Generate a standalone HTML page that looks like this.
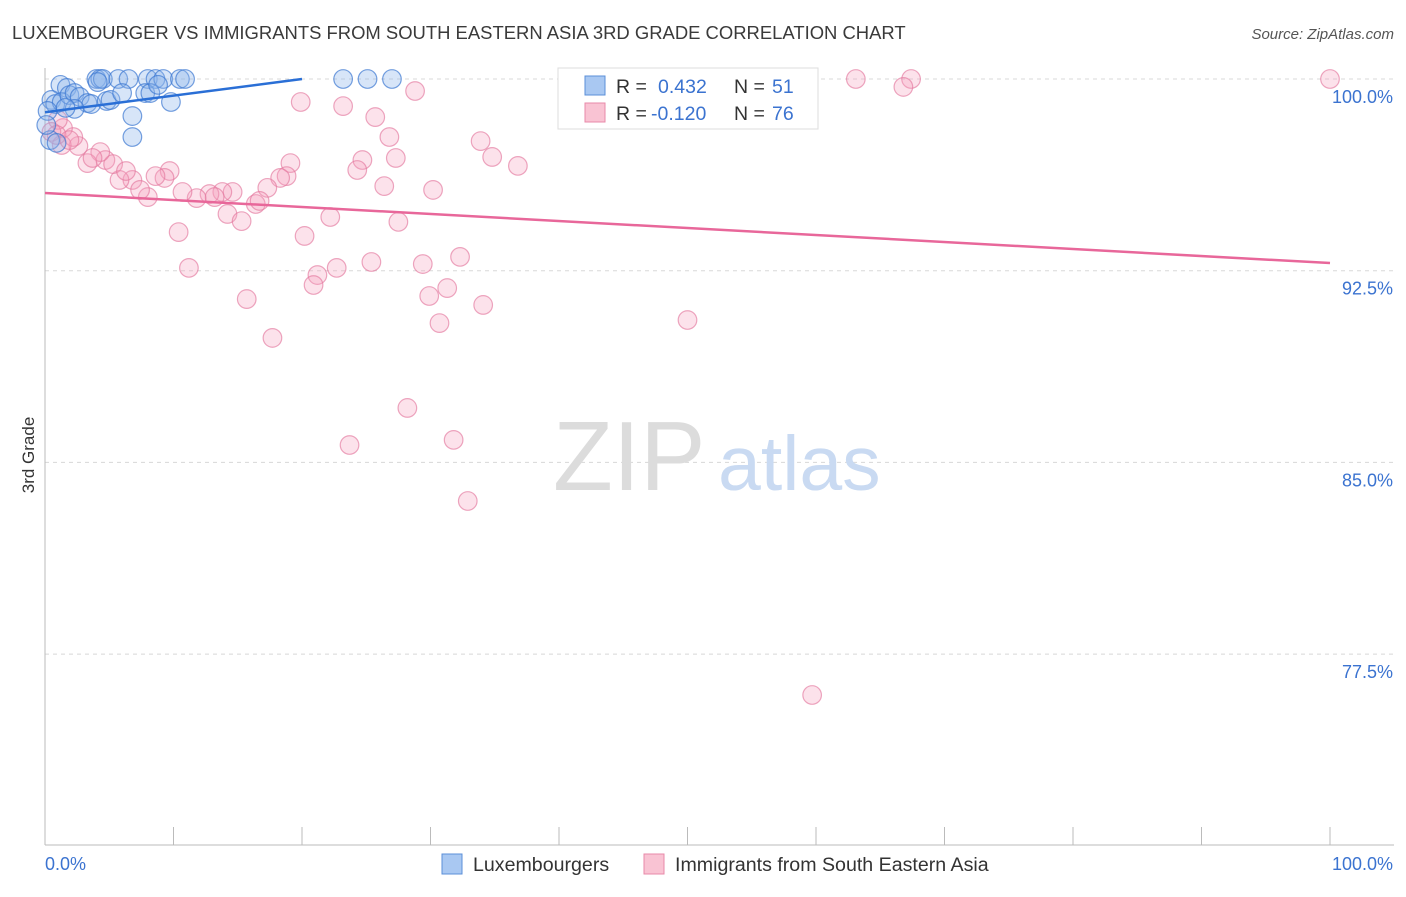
<!DOCTYPE html>
<html><head><meta charset="utf-8"><style>
body{margin:0;background:#fff;font-family:"Liberation Sans",Arial,sans-serif;}
svg text{font-family:"Liberation Sans",Arial,sans-serif;}
</style></head><body>
<svg id="chart" width="1406" height="892" viewBox="0 0 1406 892" xmlns="http://www.w3.org/2000/svg">
<text x="12" y="39" font-size="18.45" fill="#3a3a3a">LUXEMBOURGER VS IMMIGRANTS FROM SOUTH EASTERN ASIA 3RD GRADE CORRELATION CHART</text>
<text x="1394" y="39" font-size="15" fill="#555" text-anchor="end" font-style="italic">Source: ZipAtlas.com</text>
<g id="grid"></g>
<g><text x="553" y="490" font-size="98" fill="#dcdcdc" font-family="Liberation Serif">ZIP</text><text x="718" y="490" font-size="77" fill="#c9daf2">atlas</text></g>
<g id="axes"></g>
<g id="pts"></g>
<g id="trends"></g>
<text transform="translate(34,455) rotate(-90)" font-size="17" fill="#333" text-anchor="middle">3rd Grade</text>
<g>
<rect x="558" y="68" width="260" height="61" fill="#fff" stroke="#ddd"/>
<rect x="585" y="76" width="20" height="19" fill="#a9c8f2" stroke="#5b8fd8"/>
<rect x="585" y="103" width="20" height="19" fill="#f9c3d3" stroke="#e88aa8"/>
<text x="616" y="93" font-size="19.5" fill="#333">R = </text><text x="658" y="93" font-size="19.5" fill="#3b73d0">0.432</text>
<text x="734" y="93" font-size="19.5" fill="#333">N = </text><text x="772" y="93" font-size="19.5" fill="#3b73d0">51</text>
<text x="616" y="120" font-size="19.5" fill="#333">R = </text><text x="651" y="120" font-size="19.5" fill="#3b73d0">-0.120</text>
<text x="734" y="120" font-size="19.5" fill="#333">N = </text><text x="772" y="120" font-size="19.5" fill="#3b73d0">76</text>
</g>
<g>
<rect x="442" y="854" width="20" height="20" fill="#a9c8f2" stroke="#5b8fd8"/>
<text x="473" y="871" font-size="19.6" fill="#333">Luxembourgers</text>
<rect x="644" y="854" width="20" height="20" fill="#f9c3d3" stroke="#e88aa8"/>
<text x="675" y="871" font-size="19.6" fill="#333">Immigrants from South Eastern Asia</text>
</g>
</svg>
<script>
const yTicks=[100,92.5,85,77.5];
const yTickLabels=["100.0%","92.5%","85.0%","77.5%"];
const xTickLabels=["0.0%","100.0%"];
const blueX=[1.2,1.7,4.0,4.3,4.5,5.7,6.5,8.0,8.6,9.2,10.5,10.9,23.2,25.1,27.0,0.5,0.8,1.3,1.9,2.3,2.7,3.3,3.6,4.8,5.1,6.0,7.8,8.2,8.8,9.8,6.8,6.8,0.2,0.4,0.9,0.1,2.3,1.6,4.1];
const blueY=[99.77,99.65,100,100,100,100,100,100,100,100,100,100,100,100,100,99.18,99.02,99.10,99.37,99.45,99.30,99.06,99.02,99.14,99.18,99.45,99.45,99.45,99.77,99.10,98.55,97.73,98.75,97.61,97.50,98.20,98.83,98.87,99.88];
const pinkX=[63.1,67.4,100,66.8,19.9,23.2,28.8,25.7,26.8,33.9,34.8,36.8,27.3,24.7,24.3,19.1,18.8,18.3,17.3,26.4,30.2,14.6,13.8,12.8,13.2,11.8,10.7,9.7,9.3,8.6,6.8,5.8,8.0,7.4,4.7,5.3,4.3,6.3,3.3,3.7,2.6,2.2,1.4,1.0,0.5,1.3,14.2,15.3,16.4,16.7,22.2,27.5,10.4,20.2,11.2,21.2,20.9,22.7,25.4,29.4,32.3,15.7,29.9,31.3,34.1,30.7,17.7,50.0,28.2,23.7,31.8,32.9,59.7,0.9,1.9];
const pinkY=[100,100,100,99.69,99.10,98.94,99.53,98.51,97.73,97.57,96.95,96.60,96.91,96.83,96.44,96.71,96.20,96.13,95.74,95.81,95.66,95.58,95.58,95.50,95.38,95.34,95.58,96.40,96.13,96.20,96.05,96.05,95.38,95.66,96.83,96.67,97.14,96.40,96.71,96.91,97.38,97.73,98.08,98.40,97.93,97.42,94.72,94.44,95.11,95.23,94.60,94.41,94.01,93.86,92.61,92.33,91.94,92.61,92.84,92.76,93.04,91.39,91.51,91.82,91.16,90.45,89.87,90.57,87.13,85.68,85.88,83.49,75.90,97.81,97.61];
const blueTrendX=[0,20];
const blueTrendY=[98.7,100];
const pinkTrendX=[0,100];
const pinkTrendY=[95.54,92.8];

const NS="http://www.w3.org/2000/svg";
const X0=45,X1=1330,Y100=79,YPER=25.56;
const sx=v=>X0+(X1-X0)*v/100;
const sy=v=>Y100+(100-v)*YPER;
function mk(tag,attrs,parent){const e=document.createElementNS(NS,tag);for(const k in attrs)e.setAttribute(k,attrs[k]);document.getElementById(parent).appendChild(e);return e;}

yTicks.forEach((t,i)=>{
  const l=mk('line',{x1:X0,x2:1394,y1:sy(t),y2:sy(t),stroke:'#d8d8d8','stroke-dasharray':'4,4'},'grid');
  
  
  const tx=mk('text',{x:1393,y:sy(t)+24,'font-size':18,fill:'#3b73d0','text-anchor':'end'},'axes');
  tx.textContent=yTickLabels[i];
  
  
});
const xa=mk('line',{x1:X0,x2:1394,y1:845,y2:845,stroke:'#bbb'},'axes');


const ya=mk('line',{x1:X0,x2:X0,y1:68,y2:845,stroke:'#bbb'},'axes');


for(let i=0;i<=10;i++){
  const t=mk('line',{x1:sx(i*10),x2:sx(i*10),y1:827,y2:845,stroke:'#bbb'},'axes');
  
  
}
const xl0=mk('text',{x:45,y:870,'font-size':18,fill:'#3b73d0'},'axes');xl0.textContent=xTickLabels[0];


const xl1=mk('text',{x:1393,y:870,'font-size':18,fill:'#3b73d0','text-anchor':'end'},'axes');xl1.textContent=xTickLabels[1];



pinkX.forEach((v,i)=>{
  const c=mk('circle',{cx:sx(v),cy:sy(pinkY[i]),r:9.3,fill:'rgba(244,160,188,0.3)',stroke:'rgba(228,120,158,0.65)','stroke-width':1.2},'pts');
  
  
});
blueX.forEach((v,i)=>{
  const c=mk('circle',{cx:sx(v),cy:sy(blueY[i]),r:9.3,fill:'rgba(140,180,235,0.35)',stroke:'rgba(60,120,210,0.7)','stroke-width':1.2},'pts');
  
  
});
const bt=mk('line',{x1:sx(blueTrendX[0]),y1:sy(blueTrendY[0]),x2:sx(blueTrendX[1]),y2:sy(blueTrendY[1]),stroke:'#2a6fd6','stroke-width':2.5},'trends');


const pt=mk('line',{x1:sx(pinkTrendX[0]),y1:sy(pinkTrendY[0]),x2:sx(pinkTrendX[1]),y2:sy(pinkTrendY[1]),stroke:'#e8679a','stroke-width':2.5},'trends');


</script>
</body></html>
